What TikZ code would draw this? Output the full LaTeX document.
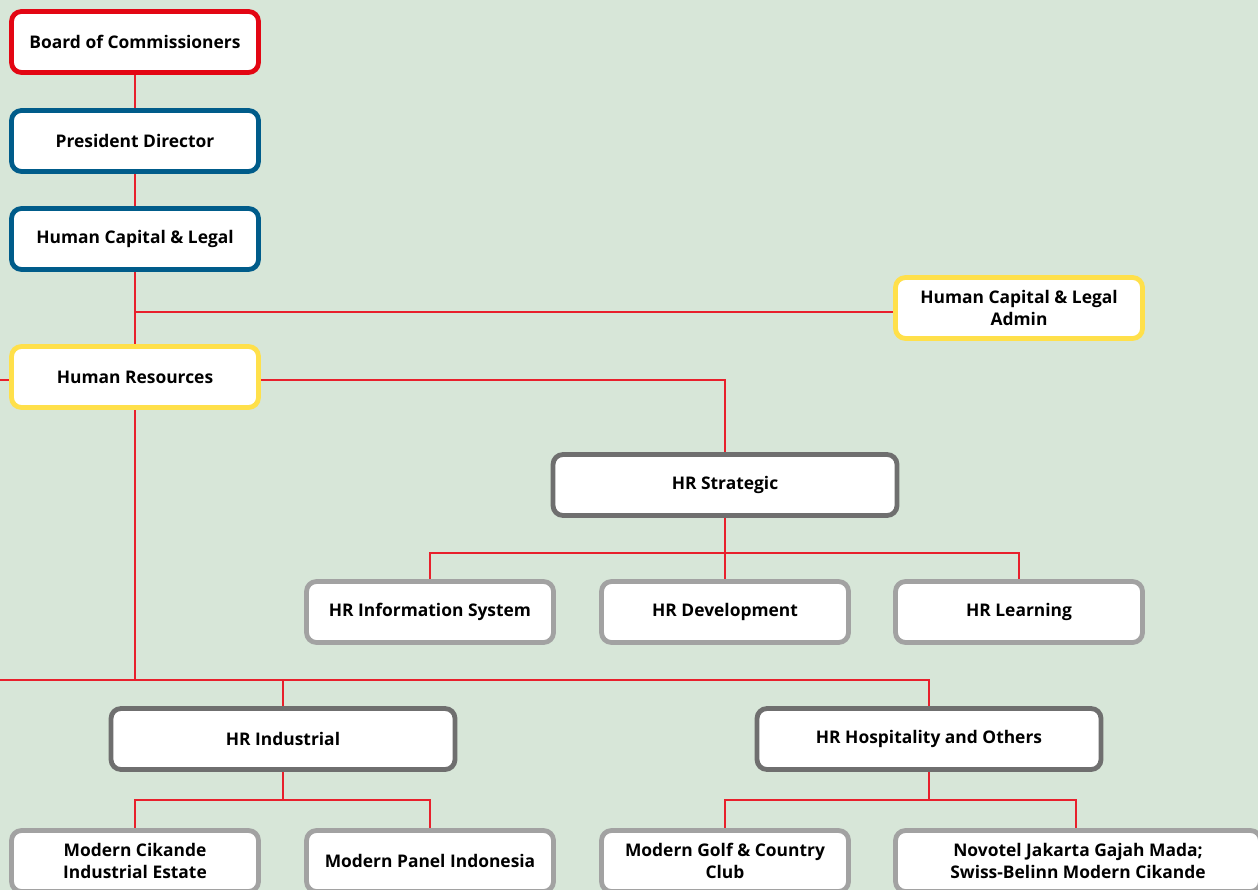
\documentclass[tikz,border=0pt]{standalone}
\usepackage{fontspec}
\setmainfont{Open Sans}
\definecolor{paper}{HTML}{D7E6D8}
\definecolor{linkred}{HTML}{E8202C}
\definecolor{boardred}{HTML}{E30613}
\definecolor{execblue}{HTML}{005C8A}
\definecolor{staffyellow}{HTML}{FFE04A}
\definecolor{darkgrey}{HTML}{6F6F6F}
\definecolor{lightgrey}{HTML}{A2A2A2}
\pgfdeclarelayer{paperlayer}
\pgfdeclarelayer{wires}
\pgfsetlayers{paperlayer,wires,main}
\tikzset{
  box/.style={draw, line width=4.8pt, rounded corners=10pt, fill=white,
    minimum width=247pt, minimum height=61pt, align=center, inner sep=2pt,
    font=\bfseries\fontsize{17.4}{22}\selectfont},
  wide/.style={minimum width=344pt},
  board/.style={box, draw=boardred},
  exec/.style={box, draw=execblue},
  staff/.style={box, draw=staffyellow},
  head/.style={box, wide, draw=darkgrey},
  unit/.style={box, draw=lightgrey},
  link/.style={draw=linkred, line width=1.3pt}
}
\begin{document}
\begin{tikzpicture}[x=1pt,y=-1pt]
\useasboundingbox (0,0) rectangle (1258,890);
\begin{pgfonlayer}{paperlayer}
  \fill[paper] (0,0) rectangle (1258,890);
\end{pgfonlayer}
\begin{scope}
\clip (0,0) rectangle (1258,890);
% top of the hierarchy
\node[board] (boc) at (135,42) {Board of Commissioners};
\node[exec] (pd) at (135,141) {President Director};
\node[exec] (hcl) at (135,239) {Human Capital \& Legal};
\node[staff] (hcla) at (1019,308) {Human Capital \& Legal\\Admin};
\node[staff] (hr) at (135,377) {Human Resources};
% strategic branch
\node[head] (hrs) at (725,485) {HR Strategic};
\node[unit] (his) at (430,612) {HR Information System};
\node[unit] (hrd) at (725,612) {HR Development};
\node[unit] (hrl) at (1019,612) {HR Learning};
% operating branches
\node[head] (hri) at (283,739) {HR Industrial};
\node[head] (hrh) at (929,739) {HR Hospitality and Others};
\node[unit] (mci) at (135,861) {Modern Cikande\\Industrial Estate};
\node[unit] (mpi) at (430,861) {Modern Panel Indonesia};
\node[unit] (mgc) at (725,861) {Modern Golf \& Country\\Club};
\node[unit, minimum width=365pt] (nov) at (1078,861) {Novotel Jakarta Gajah Mada;\\Swiss-Belinn Modern Cikande};
\end{scope}
% junction points of the connectors
\coordinate (j1) at (135,312);
\coordinate (lin) at (0,380);
\coordinate (j2) at (135,680);
\coordinate (j0) at (0,680);
\coordinate (j3) at (725,553);
\coordinate (j4) at (283,800);
\coordinate (j5) at (929,800);
\begin{pgfonlayer}{wires}
  \draw[link] (boc) -- (pd);
  \draw[link] (pd) -- (hcl);
  \draw[link] (hcl) -- (j1) -- (hr);
  \draw[link] (j1) -- (j1 -| hcla.west);
  \draw[link] (lin) -- (lin -| hr.west);
  \draw[link] (lin -| hr.east) -| (hrs.north);
  \draw[link] (hr) -- (j2);
  \draw[link] (j0) -| (hrh.north);
  \draw[link] (j2 -| hri) -- (hri.north);
  \draw[link] (hrs) -- (hrd);
  \draw[link] (his.north) |- (j3) -| (hrl.north);
  \draw[link] (hri) -- (j4);
  \draw[link] (mci.north) |- (j4) -| (mpi.north);
  \draw[link] (hrh) -- (j5);
  \draw[link] (mgc.north) |- (j5) -| ([xshift=-2pt]nov.north);
\end{pgfonlayer}
\end{tikzpicture}
\end{document}
